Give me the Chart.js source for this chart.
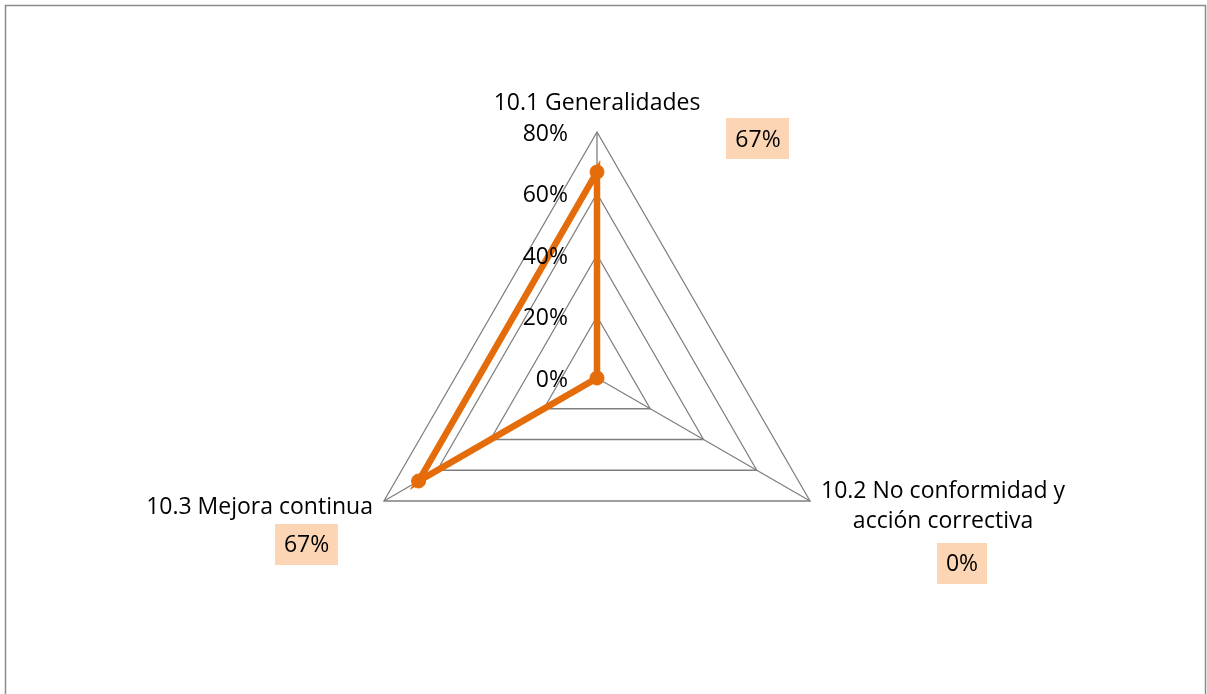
<!DOCTYPE html>
<html>
<head>
<meta charset="utf-8">
<title>Radar 10</title>
<script src="https://cdn.jsdelivr.net/npm/chart.js@4.4.0/dist/chart.umd.min.js"></script>
<style>
  html, body { margin: 0; padding: 0; background: #ffffff; }
  #wrap { width: 1207px; height: 694px; position: relative; }
</style>
</head>
<body>
<div id="wrap"><canvas id="radar_chart" width="1207" height="694"></canvas></div>
<script>

// dati
var categories = [['10.1 Generalidades'], ['10.2 No conformidad y', 'acción correctiva'], ['10.3 Mejora continua']];
var values = [67, 0, 67];
var valueLabels = ['67%', '0%', '67%'];
var tickValues = [0, 20, 40, 60, 80];
var tickLabels = ['0%', '20%', '40%', '60%', '80%'];

var FONT = '"Open Sans", "Noto Sans", sans-serif';

/* Etichette: assi, tick, valori con il box arancio chiaro, cornice */
var labelPlugin = {
  id: 'labelPlugin',
  afterDatasetsDraw: function(chart, args, opts) {
    var ctx = chart.ctx;
    var scale = chart.scales.r;
    var meta = chart.getDatasetMeta(0);

    ctx.save();
    ctx.font = opts.fontSize + 'px ' + FONT;
    ctx.fillStyle = '#000000';
    ctx.textBaseline = 'middle';

    // tick a sinistra dell'asse verticale
    ctx.textAlign = 'right';
    for (var t = 0; t < tickValues.length; t++) {
      var d = scale.getDistanceFromCenterForValue(tickValues[t]);
      ctx.fillText(tickLabels[t], scale.xCenter + opts.tickDx, scale.yCenter - d + opts.tickDy);
    }

    // nomi delle categorie
    for (var i = 0; i < categories.length; i++) {
      var p = scale.getPointPosition(i, scale.drawingArea);
      var lp = opts.pointLabelPos[i];
      var lines = categories[i];
      ctx.textAlign = lp.align;
      for (var l = 0; l < lines.length; l++) {
        ctx.fillText(lines[l], p.x + lp.dx, p.y + lp.dy + l * opts.lineHeight);
      }
    }

    // etichette dei valori
    ctx.textAlign = 'center';
    for (var j = 0; j < meta.data.length; j++) {
      var el = meta.data[j];
      var off = opts.valueLabelPos[j];
      var cx = el.x + off.dx;
      var cy = el.y + off.dy;
      var w = ctx.measureText(valueLabels[j]).width + opts.boxPadX * 2;
      var h = opts.boxHeight;
      ctx.fillStyle = '#FCD5B5';
      ctx.fillRect(Math.round(cx - w / 2), Math.round(cy - h / 2), Math.round(w), h);
      ctx.fillStyle = '#000000';
      ctx.fillText(valueLabels[j], cx, cy + 1);
    }

    // cornice del grafico
    ctx.strokeStyle = '#8a8a8a';
    ctx.lineWidth = 1.5;
    ctx.strokeRect(5.5, 5.5, 1200, 700);
    ctx.restore();
  }
};

function printChartRadar(id) {

  var ctx = document.getElementById(id).getContext('2d');
  var chart = new Chart(ctx, {
    type: 'radar',
    data: {
      labels: categories,
      datasets: [{
        label: 'Cumplimiento',
        data: values,
        borderColor: '#E46C0A',
        backgroundColor: 'rgba(0, 0, 0, 0)',
        borderWidth: 6.5,
        pointBackgroundColor: '#E46C0A',
        pointBorderColor: '#E46C0A',
        pointRadius: 7,
        pointBorderWidth: 1,
        fill: false
      }]
    },
    options: {
      responsive: false,
      animation: false,
      layout: {
        padding: { top: 132, bottom: 70, left: 0, right: 13 }
      },
      scales: {
        r: {
          min: 0,
          max: 80,
          ticks: { stepSize: 20, display: false },
          grid: { color: '#7f7f7f', lineWidth: 1.3 },
          angleLines: { color: '#7f7f7f', lineWidth: 1.3 },
          pointLabels: { display: false }
        }
      },
      plugins: {
        legend: { display: false },
        tooltip: { enabled: false },
        labelPlugin: {
          fontSize: 23,
          lineHeight: 30,
          tickDx: -29,
          tickDy: 2,
          pointLabelPos: [
            { dx: 0, dy: -29, align: 'center' },
            { dx: 133, dy: -10, align: 'center' },
            { dx: -11, dy: 6, align: 'right' }
          ],
          valueLabelPos: [
            { dx: 161, dy: -33 },
            { dx: 365, dy: 185 },
            { dx: -112, dy: 63 }
          ],
          boxPadX: 9,
          boxHeight: 41
        }
      }
    },
    plugins: [labelPlugin]
  });
  return chart;
}

function init() {
  printChartRadar('radar_chart');
}

init();
</script>
</body>
</html>
